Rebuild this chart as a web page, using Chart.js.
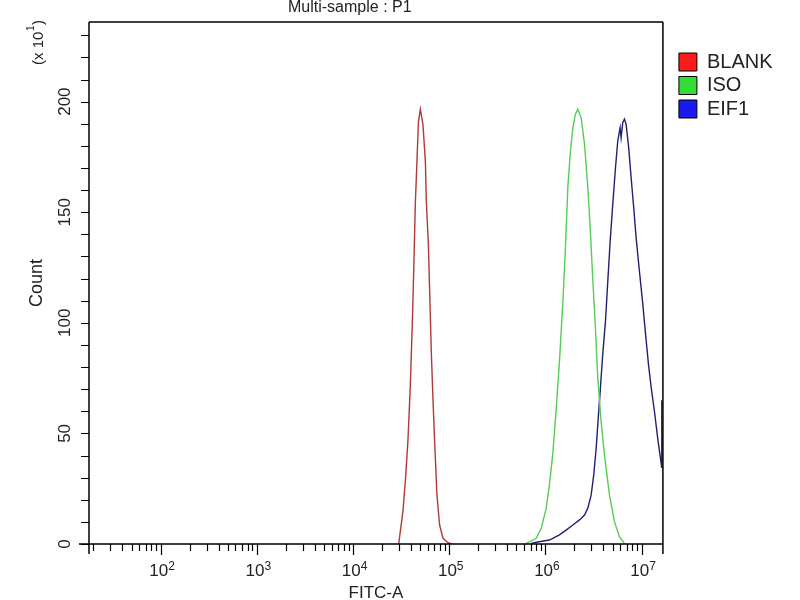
<!DOCTYPE html>
<html>
<head>
<meta charset="utf-8">
<script src="https://cdn.jsdelivr.net/npm/chart.js@4.4.1/dist/chart.umd.min.js"></script>
<style>
  html, body { margin: 0; padding: 0; background: #fff; }
  #wrap { width: 800px; height: 600px; }
</style>
</head>
<body>
<div id="wrap"><canvas id="facsChart" width="800" height="600"></canvas></div>
<script>
var FONT = "'Liberation Sans', Arial, sans-serif";

var seriesNames = ['BLANK', 'ISO', 'EIF1'];
var lineColors = ['#b03a3a', '#55cc55', '#202070'];
var boxColors = ['#ff1a1a', '#33dd33', '#1a1aee'];

// x tick positions (FITC-A, log) and their labels: base + superscript
var xTickValues = [1e2, 1e3, 1e4, 1e5, 1e6, 1e7];
var xTickBase = '10';
var xTickExponents = ['2', '3', '4', '5', '6', '7'];
var yTickValues = [0, 50, 100, 150, 200];
var yTickLabels = ['0', '50', '100', '150', '200'];

// histogram outlines (FITC-A value, count/10)
var blankX = [2.98e4, 3.30e4, 3.52e4, 3.72e4, 3.94e4, 4.14e4, 4.30e4, 4.44e4, 4.62e4, 4.78e4, 5.01e4, 5.33e4,
              5.65e4, 5.78e4, 6.07e4, 6.26e4, 6.51e4, 6.77e4, 7.05e4, 7.45e4, 7.94e4, 8.60e4, 9.70e4, 1.06e5];
var blankY = [0, 14.6, 30, 46.5, 71.4, 100.8, 128, 153.6, 173, 190.6, 196.6, 189.7,
              173, 155, 135.5, 114.3, 87, 66, 46.5, 22.4, 8.6, 2.7, 0.6, 0];

var isoX = [6.32e5, 8.02e5, 9.04e5, 1.02e6, 1.10e6, 1.19e6, 1.29e6, 1.40e6, 1.52e6, 1.62e6, 1.71e6, 1.81e6, 1.93e6, 2.05e6,
            2.17e6, 2.35e6, 2.55e6, 2.76e6, 2.92e6, 3.10e6, 3.31e6, 3.50e6, 3.79e6, 4.11e6, 4.63e6, 5.22e6, 5.88e6, 6.62e6];
var isoY = [0.3, 2.6, 7.1, 16.2, 26.7, 40.3, 59.9, 82.6, 109.8, 135.5, 161.2, 176.3, 188.4, 194.3,
            196.6, 192.8, 180.7, 161.2, 143.1, 120.5, 97.8, 75.2, 55.5, 40.3, 22.2, 10.1, 3.3, 0.3];

var eif1X = [7.13e5, 8.02e5, 1.10e6, 1.40e6, 1.64e6, 1.93e6, 2.26e6, 2.55e6, 2.76e6, 2.99e6,
             3.18e6, 3.37e6, 3.56e6, 3.73e6, 3.94e6, 4.21e6, 4.45e6, 4.71e6, 5.01e6, 5.35e6,
             5.65e6, 5.98e6, 6.12e6, 6.37e6, 6.63e6, 6.90e6, 7.34e6, 7.78e6, 8.28e6, 8.77e6,
             9.49e6, 1.03e7, 1.10e7, 1.18e7, 1.26e7, 1.36e7, 1.47e7, 1.57e7, 1.62e7, 1.62e7];
var eif1Y = [0.3, 0.8, 1.8, 4.1, 6.3, 8.6, 10.9, 13.1, 16.2, 22.2,
             31.3, 43.3, 58.4, 70.5, 85.6, 100.7, 118.8, 136.9, 153.5, 170.1,
             182.2, 188.2, 183.7, 190.6, 192.1, 189.7, 179.2, 165.6, 152, 138.4,
             123.3, 108.2, 94.6, 81, 70.5, 59.9, 47.8, 38.7, 34.4, 65];

function pts(xs, ys) {
    return xs.map(function (x, i) { return {x: x, y: ys[i]}; });
}

// minor tick marks: 2..9 x 10^n on x, every 10 counts on y
var xMinor = [];
for (var e = 1; e <= 7; e++) {
    for (var m = 2; m <= 9; m++) xMinor.push(m * Math.pow(10, e));
}
var yMinor = [];
for (var v = 0; v <= 230; v += 10) yMinor.push(v);

// "10" with a raised exponent, centred on cx, main baseline at y
function drawPower(ctx, base, exp, cx, y, size, supSize, raise) {
    ctx.font = size + 'px ' + FONT;
    var w1 = ctx.measureText(base).width;
    ctx.font = supSize + 'px ' + FONT;
    var w2 = ctx.measureText(exp).width;
    var x0 = cx - (w1 + w2) / 2;
    ctx.textAlign = 'left';
    ctx.textBaseline = 'alphabetic';
    ctx.font = size + 'px ' + FONT;
    ctx.fillText(base, x0, y);
    ctx.font = supSize + 'px ' + FONT;
    ctx.fillText(exp, x0 + w1, y - raise);
}

var frameAndTicks = {
    id: 'frameAndTicks',
    afterLayout: function (chart) {
        // push the legend off the frame and down to where the original has it
        var lg = chart.legend;
        lg.left += 12.5; lg.right += 12.5;
        lg.top += 26.5; lg.bottom += 26.5;
    },
    afterDraw: function (chart) {
        var ctx = chart.ctx, a = chart.chartArea;
        var xs = chart.scales.x, ys = chart.scales.y;
        ctx.save();
        ctx.strokeStyle = '#000';
        ctx.lineWidth = 1.5;
        ctx.beginPath();
        ctx.moveTo(a.left, a.top); ctx.lineTo(a.right, a.top);
        ctx.moveTo(a.left, a.top); ctx.lineTo(a.left, a.bottom + 10);
        ctx.moveTo(a.right, a.top); ctx.lineTo(a.right, a.bottom + 10);
        ctx.moveTo(a.left - 10, a.bottom); ctx.lineTo(a.right, a.bottom);
        ctx.stroke();

        ctx.lineWidth = 1.2;
        ctx.beginPath();
        yMinor.forEach(function (val) {
            var p = Math.round(ys.getPixelForValue(val)) + 0.5;
            ctx.moveTo(a.left - 8, p); ctx.lineTo(a.left, p);
        });
        xMinor.forEach(function (val) {
            if (val < xs.min || val > xs.max) return;
            var p = Math.round(xs.getPixelForValue(val)) + 0.5;
            ctx.moveTo(p, a.bottom); ctx.lineTo(p, a.bottom + 7);
        });
        xTickValues.forEach(function (val) {
            var p = Math.round(xs.getPixelForValue(val)) + 0.5;
            ctx.moveTo(p, a.bottom); ctx.lineTo(p, a.bottom + 11);
        });
        ctx.stroke();

        ctx.fillStyle = '#222';
        xTickValues.forEach(function (val, i) {
            drawPower(ctx, xTickBase, xTickExponents[i], xs.getPixelForValue(val) + 1.5, a.bottom + 32, 17, 12, 6.5);
        });

        ctx.font = '16px ' + FONT;
        ctx.textAlign = 'left';
        ctx.textBaseline = 'middle';
        ctx.fillText('Multi-sample : P1', 288, 8);

        // unit note on the count axis, rotated
        ctx.translate(43, 42.5);
        ctx.rotate(-Math.PI / 2);
        ctx.font = '15px ' + FONT;
        var pa = '(x 10', pc = ')';
        var wa = ctx.measureText(pa).width, wc = ctx.measureText(pc).width;
        ctx.font = '10px ' + FONT;
        var wb = ctx.measureText('1').width + 1;
        var x0 = -(wa + wb + wc) / 2;
        ctx.textAlign = 'left';
        ctx.textBaseline = 'alphabetic';
        ctx.font = '15px ' + FONT;
        ctx.fillText(pa, x0, 0);
        ctx.fillText(pc, x0 + wa + wb, 0);
        ctx.font = '10px ' + FONT;
        ctx.fillText('1', x0 + wa + 0.5, -9.5);
        ctx.restore();
    }
};

var ctx = document.getElementById('facsChart');
var facsChart = new Chart(ctx, {
    type: 'line',
    data: {
        datasets: [
            {label: seriesNames[0], data: pts(blankX, blankY), borderColor: lineColors[0], backgroundColor: boxColors[0]},
            {label: seriesNames[1], data: pts(isoX, isoY), borderColor: lineColors[1], backgroundColor: boxColors[1]},
            {label: seriesNames[2], data: pts(eif1X, eif1Y), borderColor: lineColors[2], backgroundColor: boxColors[2]}
        ]
    },
    options: {
        responsive: false,
        animation: false,
        devicePixelRatio: 1,
        layout: {padding: {top: 22, right: 30, bottom: 0, left: 0}},
        elements: {
            point: {radius: 0},
            line: {borderWidth: 1.4, tension: 0, fill: false}
        },
        scales: {
            x: {
                type: 'logarithmic',
                min: 18,
                max: 1.665e7,
                grid: {display: false, drawTicks: false},
                border: {display: false},
                afterFit: function (scale) { scale.height = 56; },
                ticks: {display: false},
                title: {
                    display: true,
                    text: 'FITC-A',
                    color: '#222',
                    font: {family: FONT, size: 17, lineHeight: 0.75},
                    padding: {top: 0, bottom: 0}
                }
            },
            y: {
                min: 0,
                max: 236,
                grid: {display: false, drawTicks: false},
                border: {display: false},
                afterBuildTicks: function (scale) {
                    scale.ticks = yTickValues.map(function (t) { return {value: t}; });
                },
                afterFit: function (scale) { scale.width = 89; },
                ticks: {
                    minRotation: 90,
                    maxRotation: 90,
                    crossAlign: 'center',
                    padding: 10,
                    color: '#222',
                    font: {family: FONT, size: 17},
                    callback: function (val, i) { return yTickLabels[i]; }
                },
                title: {
                    display: true,
                    text: 'Count',
                    color: '#222',
                    font: {family: FONT, size: 18, lineHeight: 1},
                    padding: {top: 28.5, bottom: 0}
                }
            }
        },
        plugins: {
            tooltip: {enabled: false},
            legend: {
                position: 'right',
                align: 'start',
                labels: {
                    boxWidth: 18,
                    boxHeight: 18,
                    padding: 3.5,
                    color: '#222',
                    font: {family: FONT, size: 20},
                    generateLabels: function (chart) {
                        return chart.data.datasets.map(function (ds, i) {
                            return {
                                text: ds.label,
                                fillStyle: boxColors[i],
                                strokeStyle: '#000',
                                lineWidth: 1,
                                fontColor: '#222',
                                hidden: false,
                                datasetIndex: i
                            };
                        });
                    }
                }
            }
        }
    },
    plugins: [frameAndTicks]
});
</script>
</body>
</html>
